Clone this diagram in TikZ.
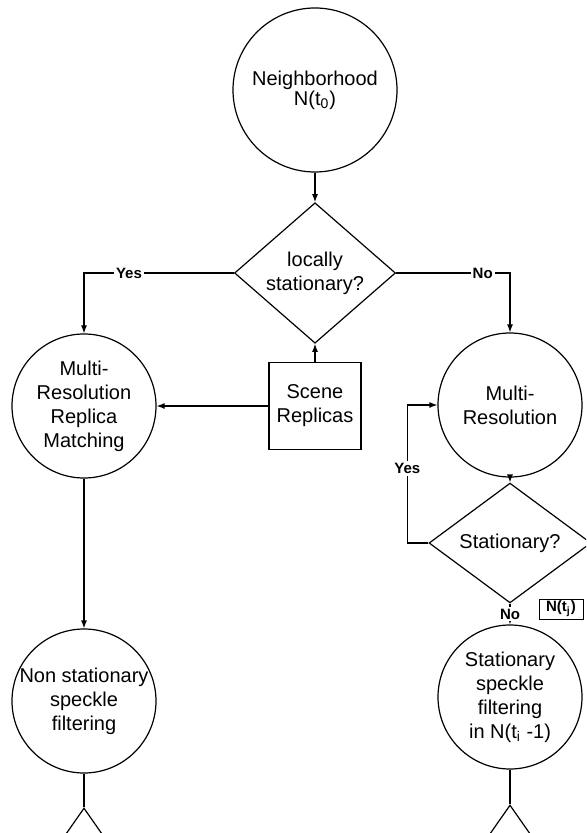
\documentclass[tikz,border=0pt]{standalone}
\usepackage{fontspec}
\setmainfont{Liberation Sans}
\usetikzlibrary{arrows.meta,shapes.geometric}

\begin{document}
\begin{tikzpicture}[x=0.5pt, y=-0.5pt,
    procnode/.style={
        circle, draw, semithick, minimum size=72pt, inner sep=0pt,
        align=center, font=\fontsize{10pt}{12pt}\selectfont
    },
    testnode/.style={
        diamond, draw, semithick, inner sep=0pt,
        align=center, font=\fontsize{10pt}{12pt}\selectfont
    },
    datanode/.style={
        rectangle, draw, semithick, minimum width=46pt, minimum height=43.5pt,
        align=center, font=\fontsize{10pt}{12pt}\selectfont
    },
    arr/.style={-{Latex[length=4pt,width=3pt]}, semithick},
    link/.style={semithick},
    wlabel/.style={fill=white, inner sep=1pt, font=\bfseries\fontsize{7.5pt}{9pt}\selectfont}
]
    \useasboundingbox (0,0) rectangle (586,833);
    \clip (0,0) rectangle (586,833);

    \node[procnode, minimum size=82pt] (nbh) at (315,90) {Neighborhood\\[-2pt]N(t\textsubscript{0})};
    \node[testnode, minimum width=80.5pt, minimum height=61pt] (loc) at (315,273) {locally\\stationary?};
    \node[procnode] (mrm) at (84,406) {Multi-\\Resolution\\Replica\\Matching};
    \node[datanode] (rep) at (315,406) {Scene\\Replicas};
    \node[procnode] (mr) at (510,405) {Multi-\\Resolution};
    \node[testnode, minimum width=81pt, minimum height=45.5pt] (st) at (510,543) {Stationary?};
    \node[procnode, inner sep=-1pt] (nsf) at (84,701) {Non stationary\\speckle\\filtering};
    \node[procnode] (ssf) at (510,697) {Stationary\\speckle\\filtering\\in N(t\textsubscript{i} -1)};
    \node[draw, thin, minimum width=22pt, minimum height=8pt, inner sep=1pt,
          font=\bfseries\fontsize{7.5pt}{9pt}\selectfont] (ntj) at (561,609) {N(t\textsubscript{j})};

    % next decisions, running off the page
    \node[testnode, minimum width=70pt, minimum height=100pt] (nxtl) at (84,908) {};
    \node[testnode, minimum width=70pt, minimum height=100pt] (nxtr) at (510,905) {};

    % main flow
    \draw[arr] (nbh) -- (loc);
    \draw[arr] (loc.west) -| node[wlabel, pos=0.35]{Yes} (mrm.north);
    \draw[arr] (loc.east) -| node[wlabel, pos=0.38]{No} (mr.north);
    \draw[arr] (rep) -- (loc);
    \draw[arr] (rep) -- (mrm);
    \draw[arr] (mrm) -- (nsf);
    \draw[arr] (mr) -- (st);

    % loop back while stationary
    \draw[arr] (st.west) -- ++(-21,0) |- node[wlabel, pos=0.27]{Yes} (mr.west);
    \draw[arr] (st) -- node[wlabel]{No} (ssf);

    \draw[link] (nsf) -- (nxtl);
    \draw[link] (ssf) -- (nxtr);
\end{tikzpicture}
\end{document}
